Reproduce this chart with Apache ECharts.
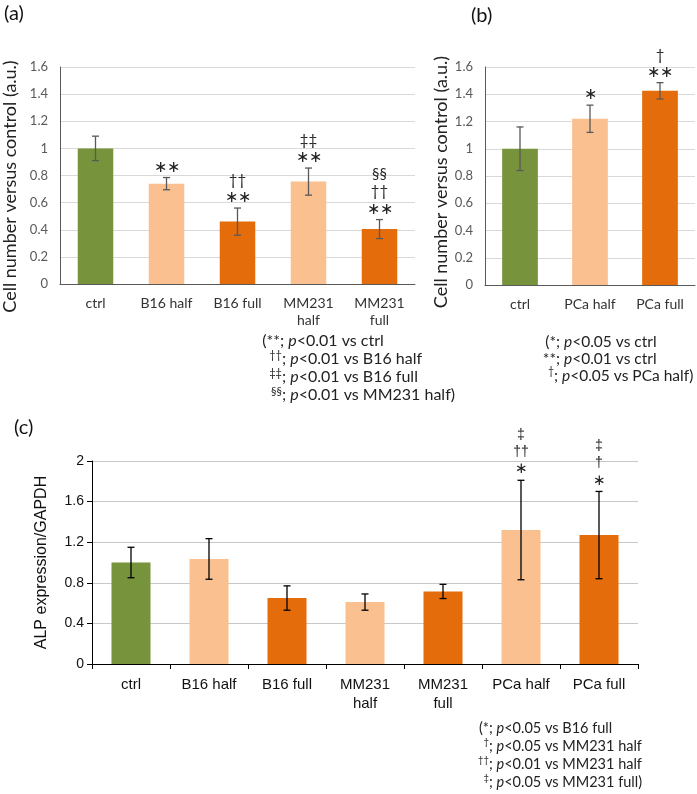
<!DOCTYPE html>
<html>
<head>
<meta charset="utf-8">
<script src="https://cdn.jsdelivr.net/npm/echarts@6/dist/echarts.min.js"></script>
<style>
  html, body { margin: 0; padding: 0; background: #fff; }
  #main { width: 697px; height: 794px; }
</style>
</head>
<body>
<div id="main"></div>
<script>
// panel (a)
const catsA = ['ctrl', 'B16 half', 'B16 full', 'MM231\nhalf', 'MM231\nfull'];
const valsA = [1.0, 0.74, 0.46, 0.755, 0.405];
const errA = [0.09, 0.045, 0.10, 0.10, 0.07];
const marksA = [[], ['∗∗'], ['††', '∗∗'], ['‡‡', '∗∗'], ['§§', '††', '∗∗']];

// panel (b)
const catsB = ['ctrl', 'PCa half', 'PCa full'];
const valsB = [1.0, 1.22, 1.425];
const errB = [0.16, 0.10, 0.06];
const marksB = [[], ['∗'], ['†', '∗∗']];

// panel (c)
const catsC = ['ctrl', 'B16 half', 'B16 full', 'MM231\nhalf', 'MM231\nfull', 'PCa half', 'PCa full'];
const valsC = [1.0, 1.035, 0.65, 0.61, 0.715, 1.32, 1.27];
const errC = [0.15, 0.2, 0.12, 0.08, 0.07, 0.49, 0.43];
const marksC = [[], [], [], [], [], ['‡', '††', '∗'], ['‡', '†', '∗']];

const GREEN = '#77933c', LIGHT = '#fac090', ORANGE = '#e46c0a';
const colA = [GREEN, LIGHT, ORANGE, LIGHT, ORANGE];
const colB = [GREEN, LIGHT, ORANGE];
const colC = [GREEN, LIGHT, ORANGE, LIGHT, ORANGE, LIGHT, ORANGE];

const calibri = 'Lato, "Open Sans", sans-serif';
const arial = '"Liberation Sans", Arial, sans-serif';

function barData(vals, cols) {
    return vals.map((v, i) => ({ value: v, itemStyle: { color: cols[i] } }));
}

function errSeries(idx, vals, errs, color) {
    return {
        type: 'custom', xAxisIndex: idx, yAxisIndex: idx, z: 5,
        data: vals.map((v, i) => [i, v, errs[i]]),
        renderItem: function (params, api) {
            const i = api.value(0), v = api.value(1), e = api.value(2);
            const t = api.coord([i, v + e]);
            const b = api.coord([i, v - e]);
            const s = { stroke: color, lineWidth: 1.3 };
            return {
                type: 'group', children: [
                    { type: 'line', shape: { x1: t[0], y1: t[1], x2: b[0], y2: b[1] }, style: s },
                    { type: 'line', shape: { x1: t[0] - 3.5, y1: t[1], x2: t[0] + 3.5, y2: t[1] }, style: s },
                    { type: 'line', shape: { x1: b[0] - 3.5, y1: b[1], x2: b[0] + 3.5, y2: b[1] }, style: s }
                ]
            };
        }
    };
}

function markSeries(idx, vals, errs, marks, font, starSize, symSize) {
    return {
        type: 'custom', xAxisIndex: idx, yAxisIndex: idx, z: 6,
        data: vals.map((v, i) => [i, v + errs[i]]),
        renderItem: function (params, api) {
            const p = api.coord([api.value(0), api.value(1)]);
            const lines = marks[params.dataIndex].slice().reverse();
            return {
                type: 'group',
                children: lines.map((txt, k) => ({
                    type: 'text',
                    style: {
                        text: txt, x: p[0], y: p[1] - 11 - k * 17,
                        align: 'center', verticalAlign: 'middle',
                        font: (txt.indexOf('∗') >= 0 ? starSize : symSize) + 'px ' + font,
                        fill: '#222'
                    }
                }))
            };
        }
    };
}

// footnote line: prefix right-aligned at anchor, rest left-aligned
function note(x, y, pre, sup, rest, size) {
    return [
        {
            type: 'text', x: x, y: sup ? y - 4 : y,
            style: { text: pre, font: (sup ? size - 5 : size) + 'px ' + calibri, fill: '#222', align: 'right', verticalAlign: 'middle' }
        },
        {
            type: 'text', x: x, y: y,
            style: {
                text: '; {i|p}' + rest,
                rich: { i: { font: 'italic ' + size + 'px ' + calibri, fill: '#222' } },
                font: size + 'px ' + calibri, fill: '#222', align: 'left', verticalAlign: 'middle'
            }
        }
    ];
}

const chart = echarts.init(document.getElementById('main'));

const yCommonAB = {
    type: 'value', min: 0, max: 1.6, interval: 0.2,
    axisLine: { show: true, lineStyle: { color: '#595959' } },
    axisTick: { show: false },
    axisLabel: { color: '#595959', fontFamily: calibri, fontSize: 13, margin: 12 },
    splitLine: { lineStyle: { color: '#d9d9d9' } },
    name: 'Cell number versus control (a.u.)',
    nameLocation: 'middle', nameRotate: 90
};
const xCommonAB = {
    type: 'category',
    axisLine: { lineStyle: { color: '#595959' } },
    axisTick: { show: false },
    axisLabel: { color: '#333', fontFamily: calibri, fontSize: 14, margin: 11, lineHeight: 17, interval: 0 }
};

const option = {
    animation: false,
    grid: [
        { left: 60, top: 67, width: 355, height: 217, outerBoundsMode: 'none' },
        { left: 485, top: 67, width: 210, height: 218, outerBoundsMode: 'none' },
        { left: 92, top: 461, width: 546, height: 203, outerBoundsMode: 'none' }
    ],
    xAxis: [
        Object.assign({}, xCommonAB, { gridIndex: 0, data: catsA }),
        Object.assign({}, xCommonAB, { gridIndex: 1, data: catsB }),
        {
            type: 'category', gridIndex: 2, data: catsC,
            axisLine: { lineStyle: { color: '#000' } },
            axisTick: { show: true, length: 5, lineStyle: { color: '#000' } },
            axisLabel: { color: '#111', fontFamily: arial, fontSize: 15, margin: 11, lineHeight: 19, interval: 0 }
        }
    ],
    yAxis: [
        Object.assign({}, yCommonAB, {
            gridIndex: 0, nameGap: 37,
            nameTextStyle: { color: '#222', fontFamily: calibri, fontSize: 18, padding: [0, 22, 0, 0] }
        }),
        Object.assign({}, yCommonAB, {
            gridIndex: 1, nameGap: 35,
            nameTextStyle: { color: '#222', fontFamily: calibri, fontSize: 18, padding: [0, 12, 0, 0] }
        }),
        {
            type: 'value', gridIndex: 2, min: 0, max: 2, interval: 0.4,
            axisLine: { show: true, lineStyle: { color: '#000' } },
            axisTick: { show: true, length: 5, lineStyle: { color: '#000' } },
            axisLabel: { color: '#111', fontFamily: arial, fontSize: 14, margin: 8 },
            splitLine: { lineStyle: { color: '#c8c8c8' } },
            name: 'ALP expression/GAPDH', nameLocation: 'middle', nameRotate: 90, nameGap: 42,
            nameTextStyle: { color: '#111', fontFamily: arial, fontSize: 16 }
        }
    ],
    series: [
        { type: 'bar', xAxisIndex: 0, yAxisIndex: 0, barWidth: '50%', data: barData(valsA, colA) },
        errSeries(0, valsA, errA, '#595959'),
        markSeries(0, valsA, errA, marksA, calibri, 16, 15),
        { type: 'bar', xAxisIndex: 1, yAxisIndex: 1, barWidth: '51%', data: barData(valsB, colB) },
        errSeries(1, valsB, errB, '#595959'),
        markSeries(1, valsB, errB, marksB, calibri, 16, 15),
        { type: 'bar', xAxisIndex: 2, yAxisIndex: 2, barWidth: '50%', data: barData(valsC, colC) },
        errSeries(2, valsC, errC, '#000'),
        markSeries(2, valsC, errC, marksC, arial, 15, 14)
    ],
    graphic: [
        { type: 'text', x: 4, y: 14, style: { text: '(a)', font: '20px ' + calibri, fill: '#111', verticalAlign: 'middle' } },
        { type: 'text', x: 471, y: 16, style: { text: '(b)', font: '20px ' + calibri, fill: '#111', verticalAlign: 'middle' } },
        { type: 'text', x: 14, y: 428, style: { text: '(c)', font: '20px ' + calibri, fill: '#111', verticalAlign: 'middle' } }
    ]
        .concat(note(280, 341, '(**', false, '<0.01 vs ctrl', 16))
        .concat(note(282, 359, '††', true, '<0.01 vs B16 half', 16))
        .concat(note(282, 377, '‡‡', true, '<0.01 vs B16 full', 16))
        .concat(note(282, 395, '§§', true, '<0.01 vs MM231 half)', 16))
        .concat(note(556, 342, '(*', false, '<0.05 vs ctrl', 15.5))
        .concat(note(556, 359, '**', false, '<0.01 vs ctrl', 15.5))
        .concat(note(554, 376, '†', true, '<0.05 vs PCa half)', 15.5))
        .concat(note(489, 728, '(*', false, '<0.05 vs B16 full', 14.5))
        .concat(note(489, 746, '†', true, '<0.05 vs MM231 half', 14.5))
        .concat(note(489, 764, '††', true, '<0.01 vs MM231 half', 14.5))
        .concat(note(489, 782, '‡', true, '<0.05 vs MM231 full)', 14.5))
};

chart.setOption(option);
</script>
</body>
</html>
